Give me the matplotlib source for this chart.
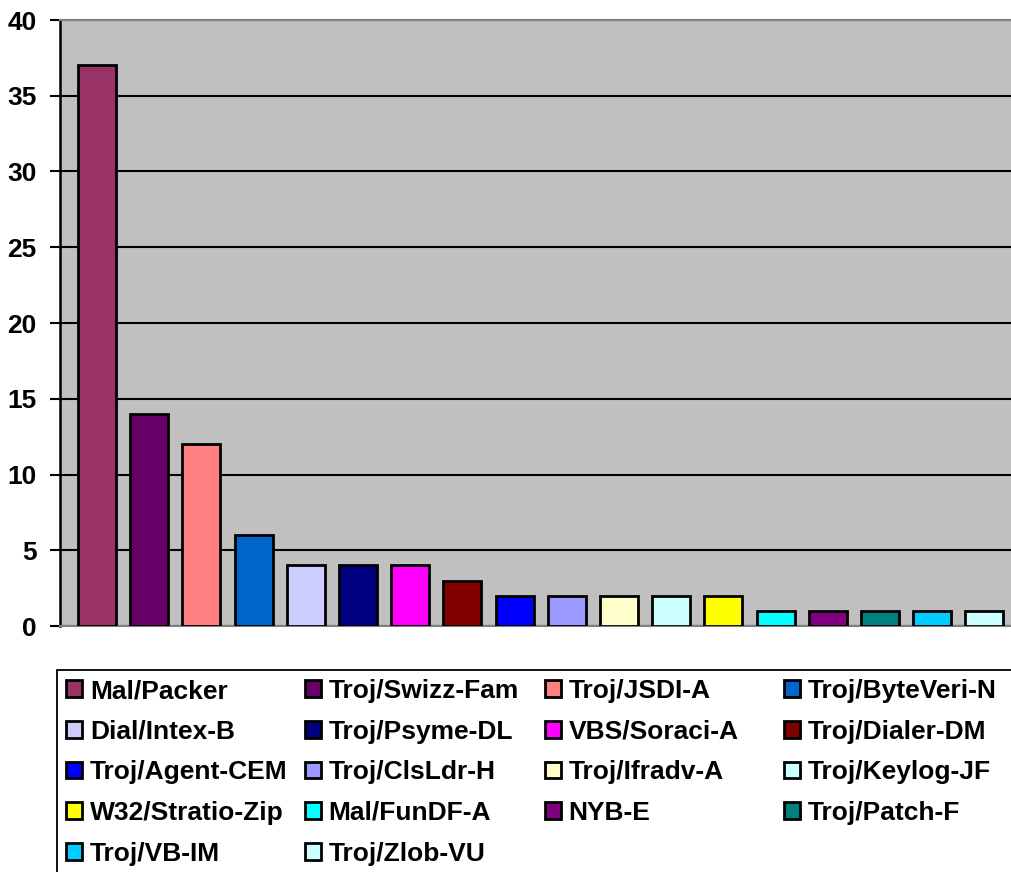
import matplotlib
matplotlib.use("Agg")
import matplotlib.pyplot as plt
from matplotlib.patches import Rectangle

plt.rcParams['font.family'] = ['Liberation Sans', 'DejaVu Sans']
plt.rcParams['font.weight'] = 'bold'

names = ["Mal/Packer", "Troj/Swizz-Fam", "Troj/JSDI-A", "Troj/ByteVeri-N",
         "Dial/Intex-B", "Troj/Psyme-DL", "VBS/Soraci-A", "Troj/Dialer-DM",
         "Troj/Agent-CEM", "Troj/ClsLdr-H", "Troj/Ifradv-A", "Troj/Keylog-JF",
         "W32/Stratio-Zip", "Mal/FunDF-A", "NYB-E", "Troj/Patch-F",
         "Troj/VB-IM", "Troj/Zlob-VU"]
counts = [37, 14, 12, 6, 4, 4, 4, 3, 2, 2, 2, 2, 2, 1, 1, 1, 1, 1]
colors = ["#993366", "#660066", "#FF8080", "#0066CC", "#CCCCFF", "#000080",
          "#FF00FF", "#800000", "#0000FF", "#9999FF", "#FFFFCC", "#CCFFFF",
          "#FFFF00", "#00FFFF", "#800080", "#008080", "#00CCFF", "#CCFFFF"]
y_ticks = [0, 5, 10, 15, 20, 25, 30, 35, 40]

W, H = 1011, 872
fig = plt.figure(figsize=(W / 100, H / 100), dpi=100)
fig.patch.set_facecolor("white")

ax = fig.add_axes([60 / W, (H - 626) / H, (W - 60) / W, (626 - 20) / H])
ax.set_facecolor("#C0C0C0")

handles = []
for i, (n, v, c) in enumerate(zip(names, counts, colors)):
    b = ax.bar(i, v, width=0.73, color=c, edgecolor="black", linewidth=2.0,
               label=n, zorder=3)
    handles.append(b[0])

ax.set_xlim(-0.709, 17.51)
ax.set_ylim(0, 40)
ax.set_yticks(y_ticks)
ax.set_xticks([])
ax.yaxis.grid(True, color="black", linewidth=1.5, zorder=1)
ax.set_axisbelow(True)
ax.tick_params(axis="y", direction="out", length=7, width=1.5, pad=10,
               labelsize=19, colors="black")
for lbl in ax.get_yticklabels():
    lbl.set_fontweight("bold")

ax.spines["left"].set_color("black")
ax.spines["left"].set_linewidth(1.8)
ax.spines["top"].set_color("#808080")
ax.spines["top"].set_linewidth(1.5)
ax.spines["bottom"].set_color("#808080")
ax.spines["bottom"].set_linewidth(1.5)
ax.spines["right"].set_visible(False)

# legend frame, running off the right and bottom edges
frame = Rectangle((57 / W, 1 - 890 / H), (1030 - 57) / W, (890 - 670) / H,
                  transform=fig.transFigure, facecolor="white",
                  edgecolor="black", linewidth=1.3, zorder=0)
fig.add_artist(frame)

# four equal-width legend columns, filled row by row
col_x = [66, 305, 545, 784]
fs = 19
for c in range(4):
    idx = list(range(c, len(names), 4))
    leg = fig.legend([handles[k] for k in idx], [names[k] for k in idx],
                     loc="upper left",
                     bbox_to_anchor=(col_x[c] / W, 1 - 679 / H),
                     bbox_transform=fig.transFigure,
                     frameon=False, borderpad=0, borderaxespad=0,
                     handlelength=0.6, handleheight=0.6, handletextpad=0.3,
                     labelspacing=0.63, prop={"size": fs, "weight": "bold"})

fig.savefig("out.png", dpi=100)
